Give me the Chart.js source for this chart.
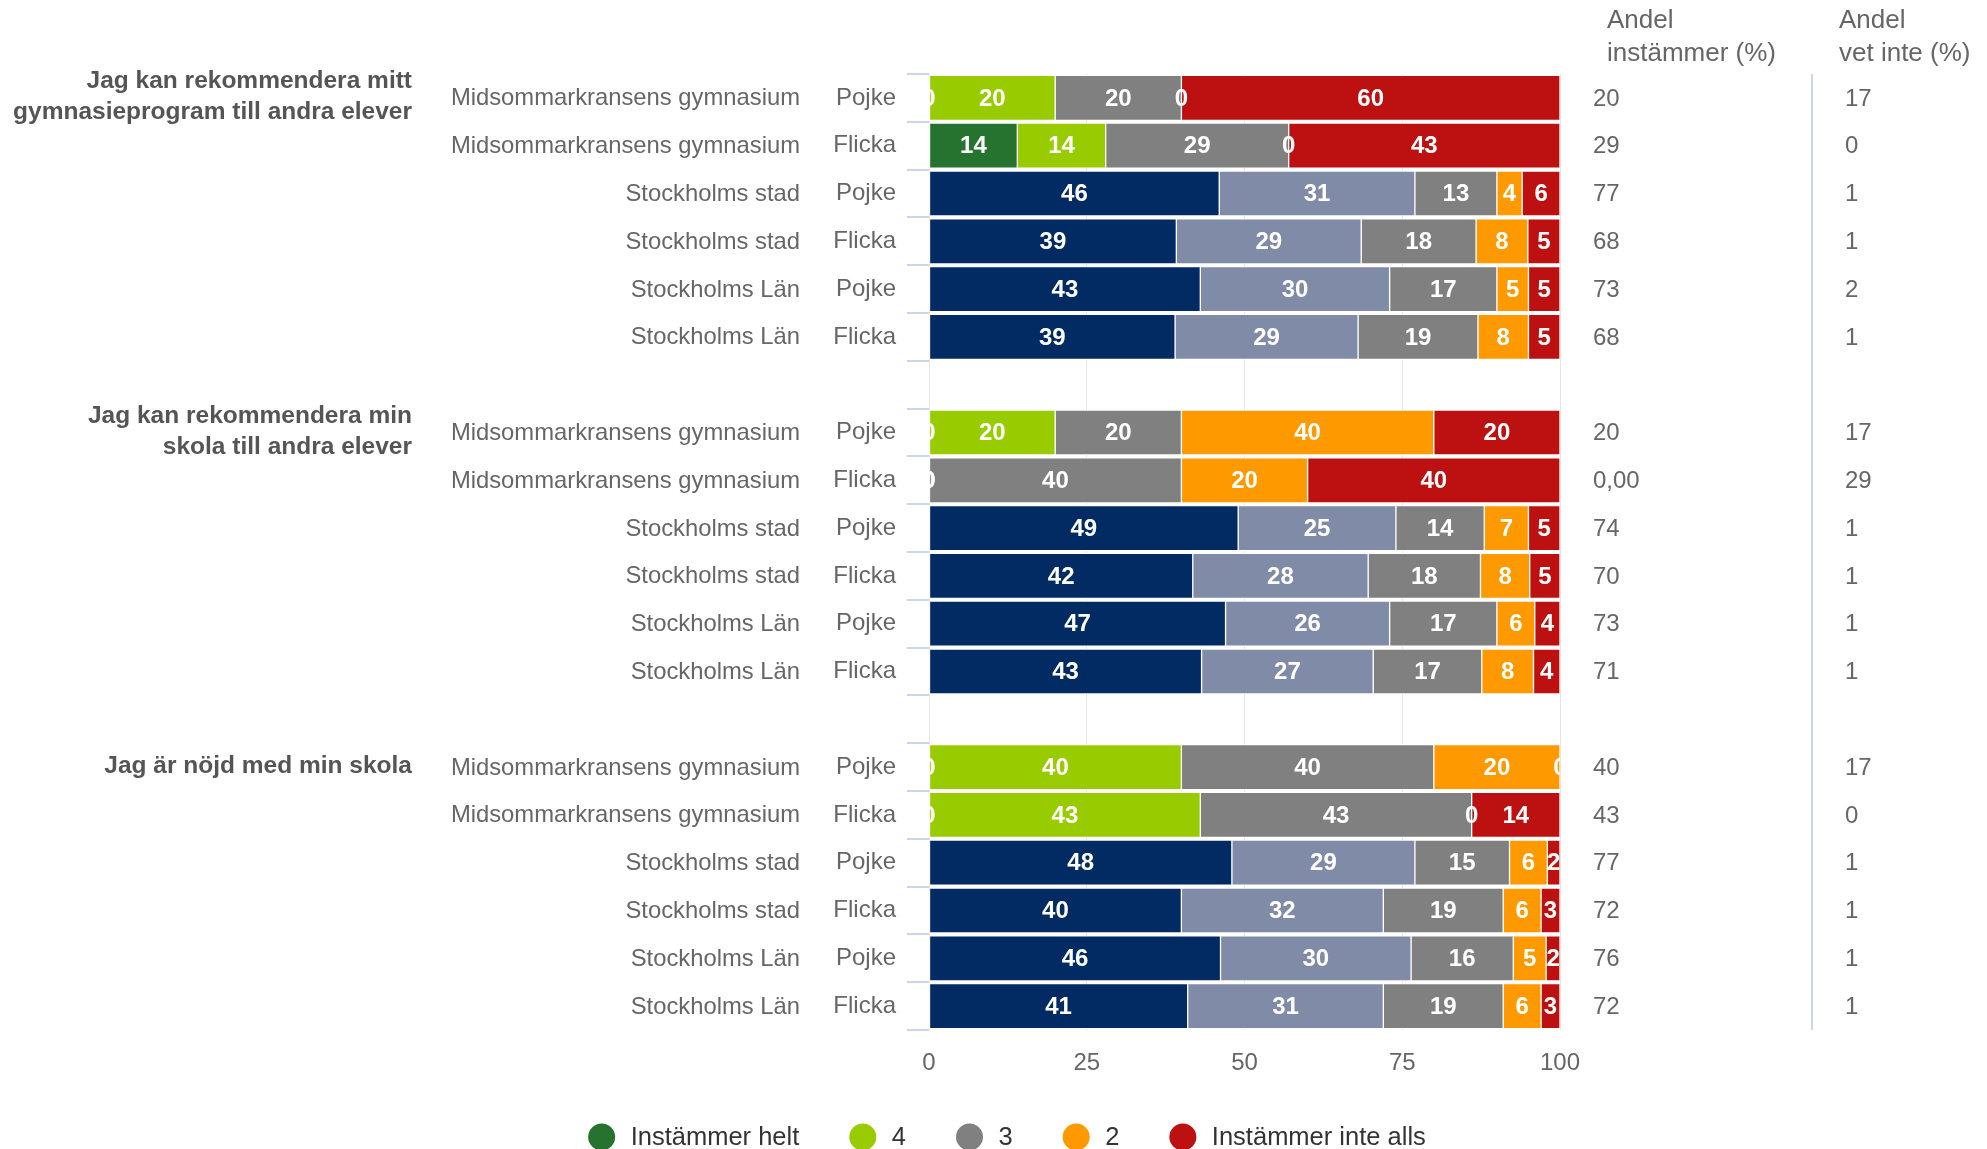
<!DOCTYPE html>
<html>
<head>
<meta charset="utf-8">
<script src="https://cdn.jsdelivr.net/npm/chart.js@4/dist/chart.umd.min.js"></script>
<style>
  html, body { margin: 0; padding: 0; background: #fff; }
  #wrap { width: 1987px; height: 1149px; position: relative; }
</style>
</head>
<body>
<div id="wrap"><canvas id="chart"></canvas></div>
<script>
// ---- data ----
const questions = [
  ['Jag kan rekommendera mitt', 'gymnasieprogram till andra elever'],
  ['Jag kan rekommendera min', 'skola till andra elever'],
  ['Jag är nöjd med min skola']
];
// one row per bar, '' = spacer row between questions
const units = [
  'Midsommarkransens gymnasium','Midsommarkransens gymnasium','Stockholms stad','Stockholms stad','Stockholms Län','Stockholms Län','',
  'Midsommarkransens gymnasium','Midsommarkransens gymnasium','Stockholms stad','Stockholms stad','Stockholms Län','Stockholms Län','',
  'Midsommarkransens gymnasium','Midsommarkransens gymnasium','Stockholms stad','Stockholms stad','Stockholms Län','Stockholms Län'
];
const genders = [
  'Pojke','Flicka','Pojke','Flicka','Pojke','Flicka','',
  'Pojke','Flicka','Pojke','Flicka','Pojke','Flicka','',
  'Pojke','Flicka','Pojke','Flicka','Pojke','Flicka'
];
const levels = ['Instämmer helt', '4', '3', '2', 'Instämmer inte alls'];
// percentages (labels are shown rounded)
const helt     = [0, 14, 46, 39.2, 43, 39, null, 0, 0, 49, 41.8, 47, 43.2, null, 0, 0, 48, 40, 46.2, 41];
const fyra     = [20, 14, 31, 29.3, 30, 29, null, 20, 0, 25, 27.8, 26, 27.2, null, 40, 43, 29, 32, 30.2, 31];
const tre      = [20, 29, 13, 18.2, 17, 19, null, 20, 40, 14, 17.8, 17, 17.2, null, 40, 43, 15, 19, 16.2, 19];
const tva      = [0, 0, 4, 8.2, 5, 8, null, 40, 20, 7, 7.8, 6, 8.2, null, 20, 0, 6, 6, 5.2, 6];
const inteAlls = [60, 43, 6, 5.1, 5, 5, null, 20, 40, 5, 4.8, 4, 4.2, null, 0, 14, 2, 3, 2.2, 3];
const andelInstammer = ['20','29','77','68','73','68','', '20','0,00','74','70','73','71','', '40','43','77','72','76','72'];
const andelVetInte   = ['17','0','1','1','2','1','', '17','29','1','1','1','1','', '17','0','1','1','1','1'];
const xTicks = [0, 25, 50, 75, 100];

const schoolColors = ['#26732F', '#99CC00', '#808080', '#FF9900', '#BD1111'];
const regionColors = ['#022B63', '#808BA7', '#808080', '#FF9900', '#BD1111'];

const FONT = "'Liberation Sans', Arial, Helvetica, sans-serif";
const series = [helt, fyra, tre, tva, inteAlls];

function rowColors(level) {
  return units.map(u => u.startsWith('Midsommar') ? schoolColors[level] : regionColors[level]);
}

const datasets = series.map((data, k) => ({
  label: levels[k],
  data: data,
  backgroundColor: rowColors(k),
  borderColor: '#ffffff',
  borderWidth: 1,
  borderSkipped: false,
  barThickness: 45
}));

// white numbers inside the segments
const barLabels = {
  id: 'barLabels',
  afterDatasetsDraw(chart) {
    const { ctx, chartArea: a } = chart;
    ctx.save();
    ctx.beginPath();
    ctx.rect(a.left, a.top, a.right - a.left, a.bottom - a.top);
    ctx.clip();
    ctx.font = 'bold 24px ' + FONT;
    ctx.fillStyle = '#ffffff';
    ctx.textAlign = 'center';
    ctx.textBaseline = 'middle';
    chart.data.datasets.forEach((ds, di) => {
      chart.getDatasetMeta(di).data.forEach((bar, i) => {
        const v = ds.data[i];
        if (v == null) return;
        const p = bar.getCenterPoint();
        ctx.fillText(String(Math.round(v)), p.x, p.y + 1);
      });
    });
    ctx.restore();
  }
};

// question titles, unit names, right-hand columns, legend
const sideText = {
  id: 'sideText',
  afterDraw(chart) {
    const { ctx, chartArea: a } = chart;
    const y = chart.scales.y;
    ctx.save();
    ctx.textBaseline = 'middle';

    ctx.font = '23.8px ' + FONT;
    ctx.fillStyle = '#666666';
    ctx.textAlign = 'right';
    units.forEach((u, i) => { if (u) ctx.fillText(u, 800, y.getPixelForValue(i) + 1); });

    ctx.font = 'bold 24.5px ' + FONT;
    ctx.fillStyle = '#555555';
    let row = 0;
    questions.forEach(lines => {
      const cy = y.getPixelForValue(row);
      const lh = 31;
      lines.forEach((t, j) => {
        ctx.fillText(t, 412, cy - (lines.length - 1) * lh / 2 + j * lh - 1);
      });
      row += 7;
    });

    ctx.textAlign = 'left';
    ctx.font = '26px ' + FONT;
    ctx.fillStyle = '#666666';
    ctx.fillText('Andel', 1607, 21);
    ctx.fillText('instämmer (%)', 1607, 54);
    ctx.fillText('Andel', 1839, 21);
    ctx.fillText('vet inte (%)', 1839, 54);
    ctx.font = '24px ' + FONT;
    andelInstammer.forEach((t, i) => { if (t) ctx.fillText(t, 1593, y.getPixelForValue(i) + 1); });
    andelVetInte.forEach((t, i) => { if (t) ctx.fillText(t, 1845, y.getPixelForValue(i) + 1); });

    ctx.strokeStyle = '#ccd6eb';
    ctx.lineWidth = 2;
    ctx.beginPath();
    ctx.moveTo(1812, a.top);
    ctx.lineTo(1812, a.bottom);
    ctx.stroke();

    // legend
    ctx.font = '25.5px ' + FONT;
    const r = 13.5, toText = 29, gap = 50;
    const widths = levels.map(t => ctx.measureText(t).width);
    const total = widths.reduce((s, w) => s + r + toText + w, 0) + gap * (levels.length - 1);
    let x = 1007 - total / 2;
    const ly = 1137;
    levels.forEach((t, k) => {
      ctx.fillStyle = schoolColors[k];
      ctx.beginPath();
      ctx.arc(x + r, ly, r, 0, Math.PI * 2);
      ctx.fill();
      ctx.fillStyle = '#333333';
      ctx.fillText(t, x + r + toText, ly + 1);
      x += r + toText + widths[k] + gap;
    });
    ctx.restore();
  }
};

new Chart(document.getElementById('chart'), {
  type: 'bar',
  data: { labels: genders, datasets: datasets },
  options: {
    indexAxis: 'y',
    responsive: true,
    maintainAspectRatio: false,
    animation: false,
    layout: { padding: { top: 74, right: 427, left: 0, bottom: 69 } },
    plugins: { legend: { display: false }, tooltip: { enabled: false } },
    scales: {
      x: {
        stacked: true,
        min: 0,
        max: 100,
        afterBuildTicks: s => { s.ticks = xTicks.map(v => ({ value: v })); },
        grid: { color: '#e6e6e6', drawTicks: false },
        border: { display: false },
        ticks: { color: '#666666', font: { family: FONT, size: 24 }, padding: 19 },
        afterFit: s => { s.height = 50; }
      },
      y: {
        stacked: true,
        grid: { drawOnChartArea: false, color: '#ccd6eb', tickLength: 22, lineWidth: 2, offset: true },
        border: { display: false },
        ticks: { color: '#666666', font: { family: FONT, size: 24 }, padding: 11, autoSkip: false },
        afterFit: s => { s.width = 929; }
      }
    }
  },
  plugins: [barLabels, sideText]
});
</script>
</body>
</html>
